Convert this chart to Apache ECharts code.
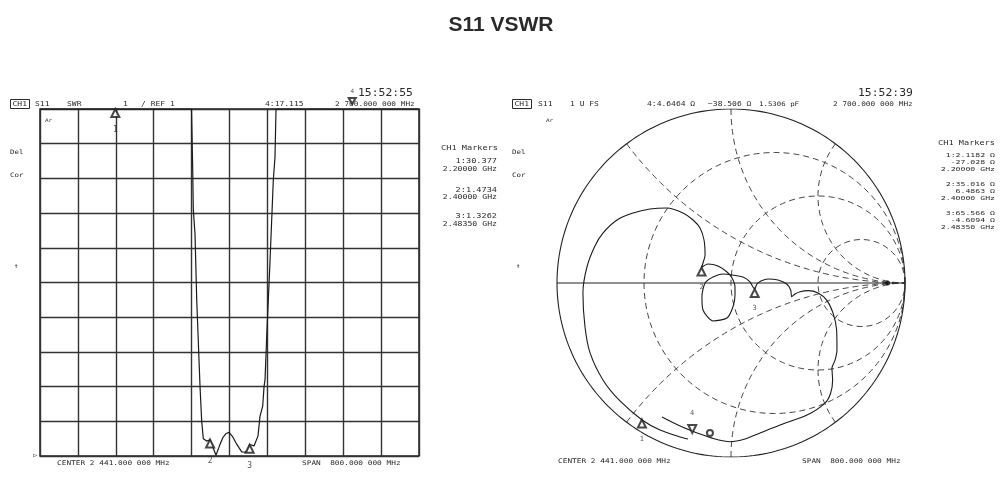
<!DOCTYPE html>
<html><head><meta charset="utf-8">
<script src="https://cdn.jsdelivr.net/npm/echarts@6/dist/echarts.min.js"></script>
<style>html,body{margin:0;padding:0;background:#fff;}#c{width:1002px;height:495px;}</style>
</head><body><div id="c"></div>
<script>
// ---------------- data ----------------
const CENTER_MHZ = 2441;
const SPAN_MHZ = 800;
const SWR_REF = 1;      // reference value (bottom line)
const SWR_PER_DIV = 1;  // scale per division
const SWR_DIVS = 10;

// SWR trace (MHz, SWR); off-scale values sit at the top line
const swrFreq = [2041, 2360.8, 2363.4, 2364.6, 2368.2, 2371.8, 2378.8, 2380.2, 2382.3, 2385.7, 2392.9, 2400, 2406, 2412.5, 2420, 2427.3, 2434, 2440, 2448, 2456.2, 2466.8, 2477.4, 2483.5, 2492.7, 2501.2, 2505.4, 2511.1, 2513.9, 2516, 2520, 2526.5, 2533.5, 2537, 2539.2, 2841];
const swrValue = [11, 11, 9.2, 8.1, 7.4, 5.5, 3.0, 2.6, 2.0, 1.5, 1.43, 1.47, 1.25, 1.02, 1.3, 1.54, 1.65, 1.68, 1.55, 1.34, 1.12, 1.11, 1.33, 1.29, 1.58, 2.15, 2.44, 3.0, 3.2, 4.6, 6.6, 8.96, 9.6, 11, 11];

// markers
const markerFreq = [2200, 2400, 2483.5, 2700];
const markerSWR = [30.377, 1.4734, 1.3262, 17.115];
const markerR = [2.1182, 35.016, 65.566, 4.6464];   // ohm
const markerX = [-27.028, 6.4863, -4.6094, -38.506]; // ohm
const Z0 = 50;

const smithRe = [-0.247, -0.293, -0.408, -0.511, -0.638, -0.736, -0.810, -0.839, -0.851, -0.828, -0.782, -0.736, -0.655, -0.563, -0.466, -0.368, -0.276, -0.218, -0.178, -0.155, -0.149, -0.161, -0.170, -0.132, -0.075, -0.023, 0.006, 0.023, 0.023, 0.011, -0.023, -0.103, -0.161, -0.167, -0.149, -0.103, -0.046, 0.006, 0.069, 0.109, 0.136, 0.149, 0.172, 0.213, 0.270, 0.320, 0.343, 0.349, 0.368, 0.397, 0.443, 0.500, 0.550, 0.586, 0.607, 0.609, 0.598, 0.580, 0.584, 0.573, 0.540, 0.437, 0.282, 0.167, 0.080, -0.006, -0.092, -0.161, -0.224, -0.305, -0.397];
const smithIm = [-0.897, -0.885, -0.845, -0.787, -0.678, -0.557, -0.402, -0.253, -0.057, 0.092, 0.213, 0.287, 0.362, 0.402, 0.425, 0.431, 0.402, 0.362, 0.316, 0.247, 0.161, 0.115, 0.089, 0.109, 0.098, 0.063, 0.029, -0.023, -0.069, -0.138, -0.201, -0.218, -0.155, -0.080, 0.000, 0.034, 0.052, 0.046, 0.034, 0.006, -0.034, -0.006, 0.011, 0.023, 0.017, -0.006, -0.040, -0.079, -0.063, -0.050, -0.044, -0.057, -0.098, -0.172, -0.270, -0.385, -0.443, -0.489, -0.557, -0.632, -0.690, -0.759, -0.816, -0.862, -0.897, -0.912, -0.897, -0.874, -0.851, -0.816, -0.770];
const smithSmallCircle = [[-0.121, -0.862]];
const smithRefDot = [[0.9, 0]];

// Smith graticule
const rGrid = [1/3, 1, 3];
const xGrid = [0.5, 1, 2];

// ---------------- helpers ----------------
const SWR_MAX = SWR_REF + SWR_PER_DIV * SWR_DIVS;
function gamma(R, X) {
  const zr = R / Z0, zi = X / Z0;
  const nr = zr - 1, ni = zi, dr = zr + 1, di = zi;
  const den = dr * dr + di * di;
  return [(nr * dr + ni * di) / den, (ni * dr - nr * di) / den];
}
function rCircle(r) {
  const c = r / (1 + r), rad = 1 / (1 + r), pts = [];
  for (let i = 0; i <= 180; i++) { const t = i / 180 * 2 * Math.PI; pts.push([c + rad * Math.cos(t), rad * Math.sin(t)]); }
  return pts;
}
function xArc(x) {
  const pts = [];
  for (let i = 0; i <= 160; i++) {
    const phi = i / 160 * (Math.PI / 2) * 0.999;
    const r = Math.tan(phi);
    const zr = r, zi = x, nr = zr - 1, dr = zr + 1, den = dr * dr + zi * zi;
    pts.push([(nr * dr + zi * zi) / den, (zi * dr - nr * zi) / den]);
  }
  pts.push([1, 0]);
  return pts;
}
function unitCircle() {
  const pts = [];
  for (let i = 0; i <= 240; i++) { const t = i / 240 * 2 * Math.PI; pts.push([Math.cos(t), Math.sin(t)]); }
  return pts;
}

const INK = '#2a2a2a';
const MONO = 'DejaVu Sans Mono';
const graphics = [];
function txt(x, y, s, size, align, weight, font, sy) {
  graphics.push({ type: 'text', x: x, y: y, silent: true, scaleY: sy || 0.82,
    style: { text: s, fill: INK, font: (weight || 'normal') + ' ' + size + 'px "' + (font || MONO) + '"', textAlign: align || 'left', textVerticalAlign: 'middle' } });
}
function box(x, y, w, h) {
  graphics.push({ type: 'rect', silent: true, shape: { x: x, y: y, width: w, height: h }, style: { fill: 'none', stroke: INK, lineWidth: 1 } });
}

// title
txt(501, 25, 'S11 VSWR', 21, 'center', 'bold', 'Liberation Sans', 1);

// ---- left panel texts ----
box(10.5, 99.5, 19, 9); txt(12.5, 104.5, 'CH1', 8);
txt(35, 104.5, 'S11', 8); txt(67, 104.5, 'SWR', 8);
txt(123, 104.5, String(SWR_PER_DIV), 8);
txt(141, 104.5, '/ REF ' + SWR_REF, 8);
txt(265, 104.5, '4:' + markerSWR[3], 8);
txt(335, 104.5, '2 700.000 000 MHz', 7.8);
txt(358, 93, '15:52:55', 11.4, 'left', 'normal', MONO, 0.9);
txt(45, 121, 'Ar', 6);
txt(10, 152, 'Del', 7.5); txt(10, 175, 'Cor', 7.5);
txt(14, 266, '↑', 8);
txt(33, 456, '▷', 7);
txt(57, 463, 'CENTER 2 441.000 000 MHz', 7.8);
txt(302, 463, 'SPAN  800.000 000 MHz', 7.8);
const lx = 497;
txt(498, 148, 'CH1 Markers', 8.6, 'right');
const lY = [[161, 169], [190, 197], [216, 224]];
for (let i = 0; i < 3; i++) {
  txt(lx, lY[i][0], (i + 1) + ':' + markerSWR[i], 8.6, 'right');
  txt(lx, lY[i][1], (markerFreq[i] / 1000).toFixed(5) + ' GHz', 8.2, 'right');
}

// ---- right panel texts ----
box(512.5, 99.5, 19, 9); txt(514.5, 104.5, 'CH1', 8);
txt(538, 104.5, 'S11', 8); txt(570, 104.5, '1 U FS', 8);
txt(647, 104.5, '4:' + markerR[3] + ' Ω', 8);
txt(708, 104.5, '−' + Math.abs(markerX[3]) + ' Ω', 8);
txt(759, 104.5, '1.5306 pF', 7.4);
txt(833, 104.5, '2 700.000 000 MHz', 7.8);
txt(858, 93, '15:52:39', 11.4, 'left', 'normal', MONO, 0.9);
txt(546, 121, 'Ar', 6);
txt(512, 152, 'Del', 7.5); txt(512, 175, 'Cor', 7.5);
txt(516, 266, '↑', 8);
txt(558, 461, 'CENTER 2 441.000 000 MHz', 7.8);
txt(802, 461, 'SPAN  800.000 000 MHz', 7.8);
txt(995, 143, 'CH1 Markers', 8.6, 'right');
const rY = [[156, 163, 170], [185, 192, 199], [214, 221, 228]];
for (let i = 0; i < 3; i++) {
  txt(995, rY[i][0], (i + 1) + ':' + markerR[i] + ' Ω', 8.2, 'right', 'normal', MONO, 0.7);
  txt(995, rY[i][1], (markerX[i] < 0 ? '-' : '') + Math.abs(markerX[i]) + ' Ω', 8.2, 'right', 'normal', MONO, 0.7);
  txt(995, rY[i][2], (markerFreq[i] / 1000).toFixed(5) + ' GHz', 8.2, 'right', 'normal', MONO, 0.7);
}

// ---------------- series ----------------
const series = [];
// SWR trace
series.push({ type: 'line', xAxisIndex: 0, yAxisIndex: 0, showSymbol: false, silent: true,
  data: swrFreq.map((f, i) => [f - CENTER_MHZ, Math.min(swrValue[i], SWR_MAX)]),
  lineStyle: { color: '#1a1a1a', width: 1.2 }, z: 5 });
// SWR markers 1-3 (triangles apex on trace)
series.push({ type: 'scatter', xAxisIndex: 0, yAxisIndex: 0, silent: true, symbol: 'emptyTriangle', symbolSize: [8, 8], symbolOffset: [0, 4],
  itemStyle: { color: '#1a1a1a', borderWidth: 1 },
  label: { show: true, position: 'bottom', distance: 0, formatter: p => p.data[2], fontSize: 8, fontFamily: MONO, color: INK, offset: [0, 8] },
  data: [0, 1, 2].map(i => [markerFreq[i] - CENTER_MHZ, Math.min(markerSWR[i], SWR_MAX), String(i + 1)]), z: 6 });
// SWR marker 4 (off-scale, shown above)
series.push({ type: 'scatter', xAxisIndex: 0, yAxisIndex: 0, silent: true, symbol: 'emptyTriangle', symbolRotate: 180, symbolSize: [7, 6], symbolOffset: [0, -8],
  itemStyle: { color: '#1a1a1a', borderWidth: 1 },
  label: { show: true, position: 'top', distance: 0, formatter: '4', fontSize: 6, fontFamily: MONO, color: INK, offset: [0, -3] },
  data: [[markerFreq[3] - CENTER_MHZ, Math.min(markerSWR[3], SWR_MAX)]], z: 6, clip: false });

// Smith graticule
const dash = { color: '#444', width: 1, type: [6, 4] };
rGrid.forEach(r => series.push({ type: 'line', xAxisIndex: 1, yAxisIndex: 1, showSymbol: false, silent: true, data: rCircle(r), lineStyle: dash, z: 2 }));
xGrid.forEach(x => {
  series.push({ type: 'line', xAxisIndex: 1, yAxisIndex: 1, showSymbol: false, silent: true, data: xArc(x), lineStyle: dash, z: 2 });
  series.push({ type: 'line', xAxisIndex: 1, yAxisIndex: 1, showSymbol: false, silent: true, data: xArc(-x), lineStyle: dash, z: 2 });
});
series.push({ type: 'line', xAxisIndex: 1, yAxisIndex: 1, showSymbol: false, silent: true, data: unitCircle(), lineStyle: { color: '#222', width: 1.1 }, z: 3 });
series.push({ type: 'line', xAxisIndex: 1, yAxisIndex: 1, showSymbol: false, silent: true, data: [[-1, 0], [1, 0]], lineStyle: { color: '#222', width: 1.1 }, z: 3 });
// Smith trace
series.push({ type: 'line', xAxisIndex: 1, yAxisIndex: 1, showSymbol: false, silent: true, smooth: 0.25,
  data: smithRe.map((v, i) => [v, smithIm[i]]), lineStyle: { color: '#1a1a1a', width: 1.1 }, z: 5 });
// Smith markers
const gm = markerR.map((R, i) => gamma(R, markerX[i]));
series.push({ type: 'scatter', xAxisIndex: 1, yAxisIndex: 1, silent: true, symbol: 'emptyTriangle', symbolSize: [8, 8], symbolOffset: [0, 4],
  itemStyle: { color: '#1a1a1a', borderWidth: 1 },
  label: { show: true, position: 'bottom', distance: 0, formatter: p => p.data[2], fontSize: 7, fontFamily: MONO, color: INK, offset: [0, 7] },
  data: [0, 1, 2].map(i => [gm[i][0], gm[i][1], String(i + 1)]), z: 6 });
series.push({ type: 'scatter', xAxisIndex: 1, yAxisIndex: 1, silent: true, symbol: 'emptyTriangle', symbolRotate: 180, symbolSize: [8, 8], symbolOffset: [0, -4],
  itemStyle: { color: '#1a1a1a', borderWidth: 1 },
  label: { show: true, position: 'top', distance: 0, formatter: '4', fontSize: 7, fontFamily: MONO, color: INK, offset: [0, -7] },
  data: [[gm[3][0], gm[3][1]]], z: 6 });
series.push({ type: 'scatter', xAxisIndex: 1, yAxisIndex: 1, silent: true, symbol: 'emptyCircle', symbolSize: 6,
  itemStyle: { color: '#1a1a1a', borderWidth: 1 }, data: smithSmallCircle, z: 6 });
series.push({ type: 'scatter', xAxisIndex: 1, yAxisIndex: 1, silent: true, symbol: 'circle', symbolSize: 5,
  itemStyle: { color: '#111' }, data: smithRefDot, z: 6 });

const chart = echarts.init(document.getElementById('c'), null, { renderer: 'canvas' });
chart.setOption({
  backgroundColor: '#fff',
  animation: false,
  grid: [
    { left: 40, top: 109, width: 379, height: 347, show: true, borderColor: '#222', borderWidth: 1.5, containLabel: false },
    { left: 557, top: 109, width: 348, height: 348, show: false, containLabel: false }
  ],
  xAxis: [
    { gridIndex: 0, type: 'value', min: -SPAN_MHZ / 2, max: SPAN_MHZ / 2, interval: SPAN_MHZ / 10,
      axisLine: { show: false }, axisTick: { show: false }, axisLabel: { show: false },
      splitLine: { show: true, lineStyle: { color: '#333', width: 1.4 } } },
    { gridIndex: 1, type: 'value', min: -1, max: 1, show: false }
  ],
  yAxis: [
    { gridIndex: 0, type: 'value', min: SWR_REF, max: SWR_MAX, interval: SWR_PER_DIV,
      axisLine: { show: false }, axisTick: { show: false }, axisLabel: { show: false },
      splitLine: { show: true, lineStyle: { color: '#333', width: 1.4 } } },
    { gridIndex: 1, type: 'value', min: -1, max: 1, show: false }
  ],
  series: series,
  graphic: graphics
});
</script>
</body></html>
